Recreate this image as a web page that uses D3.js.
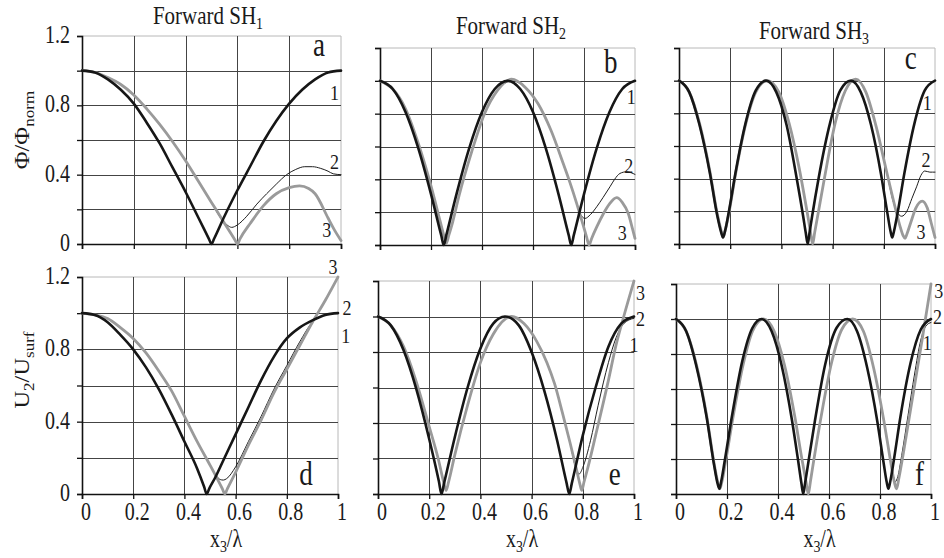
<!DOCTYPE html>
<html>
<head>
<meta charset="utf-8">
<script src="https://cdn.jsdelivr.net/npm/d3@7"></script>
<style>
  html, body { margin: 0; padding: 0; background: #fff; }
  svg { display: block; }
  text { font-family: "Liberation Serif", "Times New Roman", serif; fill: #1a1a1a; }
</style>
</head>
<body>
<svg id="chart" width="944" height="558" font-family="Liberation Serif, serif"></svg>
<script>
// ---- axis ticks ----
const xTicks = [0, 0.2, 0.4, 0.6, 0.8, 1];
const xTickLabels = ["0", "0.2", "0.4", "0.6", "0.8", "1"];
const yGrid = [0.2, 0.4, 0.6, 0.8, 1.0];
const yTicks = [0, 0.4, 0.8, 1.2];
const yTickLabels = ["0", "0.4", "0.8", "1.2"];

// ---- Forward SH1, potential (curves 1, 2, 3) ----
const sh1Phi1 = [[0,1.0],[0.05,0.99],[0.1,0.95],[0.15,0.89],[0.2,0.81],[0.25,0.70],[0.3,0.58],[0.35,0.44],[0.4,0.30],[0.45,0.15],[0.49,0.03],[0.5,0.0],[0.51,0.03],[0.55,0.16],[0.6,0.31],[0.65,0.45],[0.7,0.59],[0.75,0.71],[0.8,0.81],[0.85,0.89],[0.9,0.95],[0.95,0.99],[1.0,1.0]];
const sh1Phi2 = [[0,1.0],[0.05,0.99],[0.1,0.96],[0.15,0.92],[0.2,0.86],[0.25,0.78],[0.3,0.69],[0.35,0.59],[0.4,0.48],[0.45,0.36],[0.5,0.24],[0.54,0.14],[0.56,0.11],[0.578,0.096],[0.6,0.11],[0.636,0.16],[0.675,0.23],[0.713,0.29],[0.75,0.345],[0.79,0.40],[0.825,0.43],[0.86,0.446],[0.89,0.446],[0.92,0.437],[0.95,0.42],[0.97,0.405],[1.0,0.40]];
const sh1Phi3 = [[0,1.0],[0.05,0.99],[0.1,0.96],[0.15,0.92],[0.2,0.86],[0.25,0.78],[0.3,0.69],[0.35,0.59],[0.4,0.48],[0.45,0.36],[0.5,0.24],[0.55,0.12],[0.59,0.025],[0.6,0.0],[0.61,0.03],[0.65,0.12],[0.7,0.22],[0.75,0.29],[0.8,0.325],[0.84,0.335],[0.875,0.32],[0.9,0.29],[0.95,0.15],[0.975,0.08],[1.0,0.02]];

// ---- Forward SH2, potential ----
const sh2Phi1 = [[0,1.0],[0.05,0.95],[0.1,0.81],[0.15,0.59],[0.2,0.31],[0.24,0.06],[0.25,0.0],[0.26,0.06],[0.3,0.31],[0.35,0.59],[0.4,0.81],[0.45,0.95],[0.5,1.0],[0.55,0.95],[0.6,0.81],[0.65,0.59],[0.7,0.31],[0.74,0.06],[0.75,0.0],[0.76,0.06],[0.8,0.31],[0.85,0.59],[0.9,0.81],[0.95,0.95],[1.0,1.0]];
const sh2Phi2 = [[0,1.0],[0.05,0.95],[0.1,0.83],[0.15,0.62],[0.2,0.36],[0.235,0.15],[0.25,0.06],[0.26,0.02],[0.27,0.06],[0.285,0.14],[0.31,0.30],[0.36,0.57],[0.41,0.80],[0.46,0.94],[0.516,1.0],[0.57,0.96],[0.62,0.86],[0.67,0.70],[0.72,0.49],[0.745,0.38],[0.77,0.26],[0.785,0.19],[0.804,0.162],[0.825,0.185],[0.85,0.233],[0.875,0.29],[0.902,0.355],[0.92,0.40],[0.941,0.436],[0.967,0.446],[0.985,0.44],[1.0,0.43]];
const sh2Phi3 = [[0,1.0],[0.05,0.95],[0.1,0.83],[0.15,0.62],[0.2,0.36],[0.235,0.15],[0.25,0.06],[0.26,0.01],[0.27,0.06],[0.285,0.14],[0.31,0.30],[0.36,0.57],[0.41,0.80],[0.46,0.94],[0.516,1.01],[0.57,0.96],[0.62,0.86],[0.67,0.70],[0.72,0.49],[0.745,0.38],[0.77,0.26],[0.795,0.13],[0.81,0.05],[0.82,0.0],[0.83,0.04],[0.85,0.11],[0.876,0.19],[0.9,0.25],[0.928,0.288],[0.95,0.26],[0.974,0.19],[0.99,0.1],[1.0,0.04]];

// ---- Forward SH3, potential ----
const sh3Phi1 = [[0,1.0],[0.04,0.93],[0.08,0.73],[0.12,0.44],[0.15,0.17],[0.165,0.07],[0.172,0.04],[0.18,0.08],[0.195,0.20],[0.22,0.43],[0.26,0.74],[0.30,0.94],[0.34,1.0],[0.38,0.93],[0.42,0.73],[0.46,0.40],[0.485,0.17],[0.495,0.07],[0.503,0.0],[0.51,0.07],[0.52,0.17],[0.545,0.40],[0.59,0.74],[0.63,0.94],[0.672,1.0],[0.71,0.93],[0.75,0.73],[0.79,0.42],[0.815,0.18],[0.826,0.08],[0.833,0.04],[0.84,0.08],[0.855,0.20],[0.88,0.43],[0.92,0.74],[0.96,0.94],[1.0,1.0]];
const sh3Phi2 = [[0,1.0],[0.04,0.93],[0.08,0.74],[0.12,0.45],[0.15,0.18],[0.165,0.08],[0.172,0.04],[0.18,0.08],[0.195,0.19],[0.22,0.42],[0.26,0.73],[0.30,0.93],[0.345,1.0],[0.39,0.93],[0.43,0.74],[0.47,0.46],[0.50,0.2],[0.513,0.08],[0.522,0.01],[0.53,0.07],[0.545,0.2],[0.57,0.42],[0.61,0.74],[0.65,0.94],[0.69,1.0],[0.73,0.93],[0.77,0.72],[0.81,0.45],[0.835,0.27],[0.85,0.2],[0.87,0.17],[0.89,0.2],[0.91,0.28],[0.928,0.35],[0.945,0.42],[0.96,0.447],[0.98,0.44],[1.0,0.44]];
const sh3Phi3 = [[0,1.0],[0.04,0.93],[0.08,0.74],[0.12,0.45],[0.15,0.18],[0.165,0.08],[0.172,0.04],[0.18,0.08],[0.195,0.19],[0.22,0.42],[0.26,0.73],[0.30,0.93],[0.345,1.0],[0.39,0.93],[0.43,0.74],[0.47,0.46],[0.50,0.2],[0.513,0.08],[0.522,0.0],[0.53,0.07],[0.545,0.2],[0.57,0.42],[0.61,0.74],[0.65,0.94],[0.69,1.01],[0.73,0.93],[0.77,0.72],[0.81,0.45],[0.845,0.22],[0.865,0.1],[0.876,0.05],[0.883,0.035],[0.89,0.06],[0.905,0.13],[0.925,0.22],[0.95,0.263],[0.97,0.22],[0.985,0.13],[1.0,0.04]];

// ---- Forward SH1, displacement ----
const sh1U1 = [[0,1.0],[0.05,0.99],[0.1,0.95],[0.15,0.88],[0.2,0.80],[0.25,0.70],[0.3,0.58],[0.35,0.44],[0.4,0.29],[0.45,0.14],[0.477,0.04],[0.487,0.0],[0.497,0.03],[0.52,0.09],[0.55,0.18],[0.6,0.33],[0.65,0.48],[0.7,0.63],[0.75,0.76],[0.8,0.86],[0.85,0.92],[0.9,0.96],[0.95,0.99],[1.0,1.0]];
const sh1U2 = [[0,1.0],[0.05,0.99],[0.1,0.97],[0.15,0.92],[0.2,0.86],[0.25,0.78],[0.3,0.68],[0.35,0.57],[0.4,0.43],[0.45,0.29],[0.5,0.16],[0.525,0.1],[0.54,0.08],[0.552,0.077],[0.565,0.085],[0.6,0.15],[0.65,0.29],[0.7,0.43],[0.75,0.58],[0.8,0.71],[0.85,0.84],[0.9,0.95],[0.95,0.99],[1.0,1.0]];
const sh1U3 = [[0,1.0],[0.05,0.99],[0.1,0.97],[0.15,0.92],[0.2,0.86],[0.25,0.78],[0.3,0.68],[0.35,0.57],[0.4,0.43],[0.45,0.29],[0.5,0.16],[0.53,0.08],[0.548,0.03],[0.558,0.0],[0.568,0.03],[0.6,0.12],[0.65,0.27],[0.7,0.41],[0.75,0.56],[0.8,0.69],[0.85,0.82],[0.9,0.95],[0.95,1.07],[1.0,1.2]];

// ---- Forward SH2, displacement ----
const sh2U1 = [[0,1.0],[0.05,0.95],[0.1,0.81],[0.15,0.59],[0.2,0.31],[0.238,0.07],[0.248,0.0],[0.258,0.06],[0.3,0.32],[0.35,0.6],[0.4,0.82],[0.45,0.96],[0.496,1.0],[0.55,0.95],[0.6,0.80],[0.65,0.58],[0.7,0.30],[0.737,0.06],[0.747,0.0],[0.757,0.06],[0.8,0.33],[0.85,0.6],[0.9,0.83],[0.95,0.96],[1.0,1.0]];
const sh2U2 = [[0,1.0],[0.05,0.95],[0.1,0.83],[0.15,0.63],[0.2,0.38],[0.235,0.2],[0.256,0.07],[0.266,0.03],[0.276,0.07],[0.3,0.22],[0.35,0.5],[0.4,0.74],[0.45,0.9],[0.522,1.0],[0.57,0.96],[0.62,0.86],[0.66,0.74],[0.69,0.62],[0.72,0.46],[0.75,0.29],[0.77,0.16],[0.786,0.113],[0.8,0.15],[0.83,0.3],[0.86,0.5],[0.9,0.74],[0.93,0.88],[0.96,0.96],[1.0,0.99]];
const sh2U3 = [[0,1.0],[0.05,0.95],[0.1,0.83],[0.15,0.63],[0.2,0.38],[0.235,0.2],[0.256,0.07],[0.266,0.02],[0.276,0.07],[0.3,0.22],[0.35,0.5],[0.4,0.74],[0.45,0.9],[0.522,1.0],[0.57,0.96],[0.62,0.86],[0.66,0.74],[0.69,0.62],[0.72,0.46],[0.75,0.29],[0.775,0.14],[0.788,0.06],[0.796,0.02],[0.805,0.07],[0.82,0.15],[0.85,0.33],[0.9,0.64],[0.93,0.84],[0.96,1.0],[1.0,1.2]];

// ---- Forward SH3, displacement ----
const sh3U1 = [[0,1.0],[0.04,0.93],[0.08,0.73],[0.12,0.44],[0.15,0.16],[0.163,0.06],[0.17,0.03],[0.177,0.07],[0.19,0.18],[0.22,0.45],[0.26,0.76],[0.30,0.95],[0.336,1.0],[0.375,0.93],[0.415,0.73],[0.455,0.42],[0.48,0.18],[0.492,0.06],[0.499,0.0],[0.506,0.06],[0.52,0.19],[0.545,0.42],[0.585,0.74],[0.63,0.95],[0.672,1.0],[0.71,0.93],[0.75,0.72],[0.79,0.41],[0.815,0.17],[0.826,0.07],[0.833,0.03],[0.84,0.07],[0.855,0.20],[0.88,0.44],[0.92,0.75],[0.96,0.94],[1.0,1.0]];
const sh3U2 = [[0,1.0],[0.04,0.93],[0.08,0.74],[0.12,0.45],[0.15,0.17],[0.165,0.06],[0.172,0.03],[0.18,0.07],[0.195,0.19],[0.225,0.45],[0.265,0.75],[0.30,0.93],[0.342,1.0],[0.385,0.93],[0.425,0.74],[0.465,0.45],[0.495,0.19],[0.51,0.07],[0.519,0.01],[0.527,0.07],[0.54,0.19],[0.57,0.45],[0.61,0.75],[0.65,0.94],[0.693,1.0],[0.735,0.93],[0.775,0.72],[0.815,0.42],[0.84,0.2],[0.853,0.1],[0.86,0.07],[0.87,0.1],[0.885,0.22],[0.91,0.45],[0.935,0.68],[0.96,0.88],[0.98,0.96],[1.0,0.98]];
const sh3U3 = [[0,1.0],[0.04,0.93],[0.08,0.74],[0.12,0.45],[0.15,0.17],[0.165,0.06],[0.172,0.03],[0.18,0.07],[0.195,0.19],[0.225,0.45],[0.265,0.75],[0.30,0.93],[0.342,1.0],[0.385,0.93],[0.425,0.74],[0.465,0.45],[0.495,0.19],[0.51,0.07],[0.519,0.0],[0.527,0.07],[0.54,0.19],[0.57,0.45],[0.61,0.75],[0.65,0.94],[0.693,1.0],[0.735,0.93],[0.775,0.72],[0.815,0.42],[0.84,0.2],[0.856,0.07],[0.865,0.03],[0.874,0.09],[0.89,0.22],[0.915,0.44],[0.94,0.66],[0.965,0.88],[1.0,1.2]];

// ---- line styles for curve numbers 1, 2, 3 ----
const curveStyle = {
  1: { stroke: "#161616", width: 2.6 },
  2: { stroke: "#1e1e1e", width: 1.0 },
  3: { stroke: "#9a9a9a", width: 2.8 }
};

// ---- panel layout ----
const panels = [
  { L: 82,  R: 341, T: 36,  B: 244, c: { 1: sh1Phi1, 2: sh1Phi2, 3: sh1Phi3 }, letter: "a", letterAt: [0.915, 1.085],
    labels: { 1: [0.975, 0.83], 2: [0.975, 0.43], 3: [0.945, 0.04] }, yLab: true,  xLab: false },
  { L: 380, R: 635, T: 48,  B: 245, c: { 1: sh2Phi1, 2: sh2Phi2, 3: sh2Phi3 }, letter: "b", letterAt: [0.905, 1.05],
    labels: { 1: [0.985, 0.86], 2: [0.975, 0.44], 3: [0.95, 0.03] }, yLab: false, xLab: false },
  { L: 679, R: 935, T: 48,  B: 244, c: { 1: sh3Phi1, 2: sh3Phi2, 3: sh3Phi3 }, letter: "c", letterAt: [0.905, 1.07],
    labels: { 1: [0.97, 0.82], 2: [0.965, 0.47], 3: [0.945, 0.03] }, yLab: false, xLab: false },
  { L: 82,  R: 338, T: 277, B: 494, c: { 1: sh1U1, 2: sh1U2, 3: sh1U3 }, letter: "d", letterAt: [0.875, 0.05],
    labels: { 1: [1.03, 0.835], 2: [1.035, 0.99], 3: [0.98, 1.215] }, yLab: true,  xLab: true },
  { L: 378, R: 634, T: 281, B: 494, c: { 1: sh2U1, 2: sh2U2, 3: sh2U3 }, letter: "e", letterAt: [0.925, 0.05],
    labels: { 1: [1.0, 0.80], 2: [1.025, 0.944], 3: [1.025, 1.092] }, yLab: false, xLab: true },
  { L: 676, R: 931, T: 284, B: 494, c: { 1: sh3U1, 2: sh3U2, 3: sh3U3 }, letter: "f", letterAt: [0.955, 0.05],
    labels: { 1: [0.985, 0.825], 2: [1.025, 0.97], 3: [1.03, 1.118] }, yLab: false, xLab: true }
];

const titles = [
  { x: 208, y: 24, sub: "1" },
  { x: 511, y: 34, sub: "2" },
  { x: 814, y: 39, sub: "3" }
];

const svg = d3.select("#chart");
const FS = 20;
const SY = 1.22; // glyphs are drawn taller than wide

// text anchored at (x, y) baseline, stretched vertically about that point
function stext(parent, x, y, size, anchor, rot) {
  return parent.append("text")
    .attr("transform", `translate(${x},${y}) scale(1,${SY})` + (rot ? ` rotate(${rot})` : ""))
    .attr("font-size", size).attr("text-anchor", anchor || "middle");
}

panels.forEach(p => {
  const x = d3.scaleLinear().domain([0, 1]).range([p.L, p.R]);
  const y = d3.scaleLinear().domain([0, 1.2]).range([p.B, p.T]);
  const g = svg.append("g");

  // frame: light top and right edges
  g.append("line").attr("x1", p.L).attr("x2", p.R).attr("y1", y(1.2)).attr("y2", y(1.2))
    .attr("stroke", "#b8b8b8").attr("stroke-width", 1);
  g.append("line").attr("x1", x(1)).attr("x2", x(1)).attr("y1", y(0)).attr("y2", y(1.2))
    .attr("stroke", "#b8b8b8").attr("stroke-width", 1);

  // grid
  g.selectAll(".hg").data(yGrid).join("line")
    .attr("x1", p.L).attr("x2", p.R)
    .attr("y1", d => Math.round(y(d)) + 0.5).attr("y2", d => Math.round(y(d)) + 0.5)
    .attr("stroke", "#444").attr("stroke-width", 1);
  g.selectAll(".vg").data(xTicks.slice(1, 5)).join("line")
    .attr("x1", d => Math.round(x(d)) + 0.5).attr("x2", d => Math.round(x(d)) + 0.5)
    .attr("y1", y(0)).attr("y2", y(1.2))
    .attr("stroke", "#444").attr("stroke-width", 1);

  // axes
  const yAxis = d3.axisLeft(y).tickValues([0, 0.2, 0.4, 0.6, 0.8, 1.0, 1.2]).tickSize(5).tickFormat("");
  const xAxis = d3.axisBottom(x).tickValues(xTicks).tickSize(5).tickFormat("");
  const ya = g.append("g").attr("transform", `translate(${p.L},0)`).call(yAxis);
  const xa = g.append("g").attr("transform", `translate(0,${p.B})`).call(xAxis);
  [ya, xa].forEach(a => {
    a.select(".domain").attr("stroke", "#111").attr("stroke-width", 1.6);
    a.selectAll(".tick line").attr("stroke", "#111").attr("stroke-width", 1.3);
  });

  // curves: thin 2 underneath, grey 3, black 1 on top
  const line = d3.line().x(d => x(d[0])).y(d => y(d[1])).curve(d3.curveMonotoneX);
  [2, 3, 1].forEach(k => {
    g.append("path").datum(p.c[k]).attr("d", line)
      .attr("fill", "none").attr("stroke", curveStyle[k].stroke)
      .attr("stroke-width", curveStyle[k].width)
      .attr("stroke-linejoin", "round").attr("stroke-linecap", "round");
  });

  // curve numbers
  [1, 2, 3].forEach(k => {
    stext(g, x(p.labels[k][0]), y(p.labels[k][1]), 18).text(k);
  });

  // panel letter
  stext(g, x(p.letterAt[0]), y(p.letterAt[1]), 27).text(p.letter);

  if (p.yLab) {
    yTicks.forEach((d, i) => {
      stext(g, p.L - 12, y(d) + 7, FS, "end").text(yTickLabels[i]);
    });
  }
  if (p.xLab) {
    xTicks.forEach((d, i) => {
      stext(g, x(d) + 4, p.B + 26, FS).text(xTickLabels[i]);
    });
    const xl = stext(g, (p.L + p.R) / 2 + 16, p.B + 53, FS);
    xl.append("tspan").text("x");
    xl.append("tspan").attr("dy", 4).attr("font-size", 14).text("3");
    xl.append("tspan").attr("dy", -4).text("/λ");
  }
});

// titles
titles.forEach(t => {
  const tx = stext(svg, t.x, t.y, 21);
  tx.append("tspan").text("Forward SH");
  tx.append("tspan").attr("dy", 4).attr("font-size", 14).text(t.sub);
});

// y axis titles
const yt1 = stext(svg, 29, 130, FS, "middle", -90);
yt1.append("tspan").text("Φ/Φ");
yt1.append("tspan").attr("dy", 5).attr("font-size", 14).text("norm");

const yt2 = stext(svg, 29, 370, FS, "middle", -90);
yt2.append("tspan").text("U");
yt2.append("tspan").attr("dy", 5).attr("font-size", 14).text("2");
yt2.append("tspan").attr("dy", -5).text("/U");
yt2.append("tspan").attr("dy", 5).attr("font-size", 14).text("surf");
</script>
</body>
</html>
